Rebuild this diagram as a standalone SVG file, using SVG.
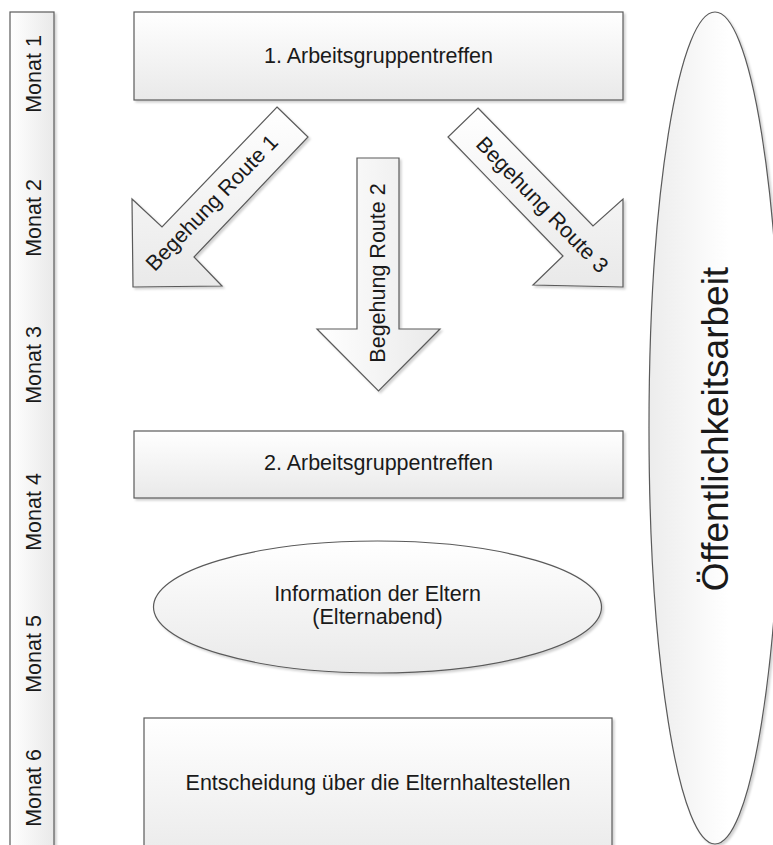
<svg xmlns="http://www.w3.org/2000/svg" width="773" height="845" viewBox="0 0 773 845">
<defs>
  <linearGradient id="gv" x1="0" y1="0" x2="0" y2="1">
    <stop offset="0" stop-color="#ffffff"/>
    <stop offset="1" stop-color="#e9e9e9"/>
  </linearGradient>
  <linearGradient id="gh" x1="0" y1="0" x2="1" y2="0">
    <stop offset="0" stop-color="#ffffff"/>
    <stop offset="1" stop-color="#e9e9e9"/>
  </linearGradient>
  <linearGradient id="gh2" x1="0" y1="0" x2="1" y2="0">
    <stop offset="0" stop-color="#ececec"/>
    <stop offset="0.6" stop-color="#ffffff"/>
    <stop offset="1" stop-color="#ffffff"/>
  </linearGradient>
  <filter id="sh" x="-10%" y="-10%" width="130%" height="130%">
    <feDropShadow dx="2" dy="2" stdDeviation="1.2" flood-color="#000" flood-opacity="0.18"/>
  </filter>
</defs>
<style>
  .shape { stroke: #5a5a5a; stroke-width: 1.2; filter: url(#sh); }
  .v { fill: url(#gv); }
  .h { fill: url(#gh); }
  text { font-family: "Liberation Sans", Arial, sans-serif; font-size: 21.5px; fill: #1a1a1a; text-anchor: middle; }
  .big { font-size: 37px; }
</style>

<g id="timeline">
  <rect class="shape h" x="10" y="12" width="44" height="850"/>
  <text transform="translate(41,74) rotate(-90)">Monat 1</text>
  <text transform="translate(41,218) rotate(-90)">Monat 2</text>
  <text transform="translate(41,365) rotate(-90)">Monat 3</text>
  <text transform="translate(41,512) rotate(-90)">Monat 4</text>
  <text transform="translate(41,654) rotate(-90)">Monat 5</text>
  <text transform="translate(41,788) rotate(-90)">Monat 6</text>
</g>

<g id="oeffentlichkeitsarbeit">
  <ellipse class="shape" fill="url(#gh2)" cx="715" cy="428" rx="66" ry="416"/>
  <text class="big" transform="translate(728,429) rotate(-90)">Öffentlichkeitsarbeit</text>
</g>

<g id="treffen1">
  <rect class="shape v" x="134" y="12" width="489" height="88"/>
  <text x="378.5" y="63">1. Arbeitsgruppentreffen</text>
</g>

<g id="connectors">
  <g id="route1">
    <polygon class="shape v" points="277,107 308,137 194,257 222,286 133,287 132,199 162,227"/>
    <text transform="translate(212,203) rotate(-46)" dy="7">Begehung Route 1</text>
  </g>
  <g id="route2">
    <polygon class="shape h" points="357,158 399,158 399,329 440,329 378.5,391 317,329 357,329"/>
    <text transform="translate(385,273) rotate(-90)">Begehung Route 2</text>
  </g>
  <g id="route3">
    <polygon class="shape v" points="478,108 593,226 623,199 623,287 533,285 563,256 448,137"/>
    <text transform="translate(542,205) rotate(46)" dy="7">Begehung Route 3</text>
  </g>
</g>

<g id="treffen2">
  <rect class="shape v" x="134" y="431" width="489" height="67"/>
  <text x="378.5" y="470">2. Arbeitsgruppentreffen</text>
</g>

<g id="elternabend">
  <ellipse class="shape v" cx="377.5" cy="607" rx="224" ry="66"/>
  <text x="377.5" y="601">Information der Eltern</text>
  <text x="377.5" y="624">(Elternabend)</text>
</g>

<g id="entscheidung">
  <rect class="shape v" x="144" y="718" width="468" height="150"/>
  <text x="378" y="790">Entscheidung über die Elternhaltestellen</text>
</g>
</svg>
